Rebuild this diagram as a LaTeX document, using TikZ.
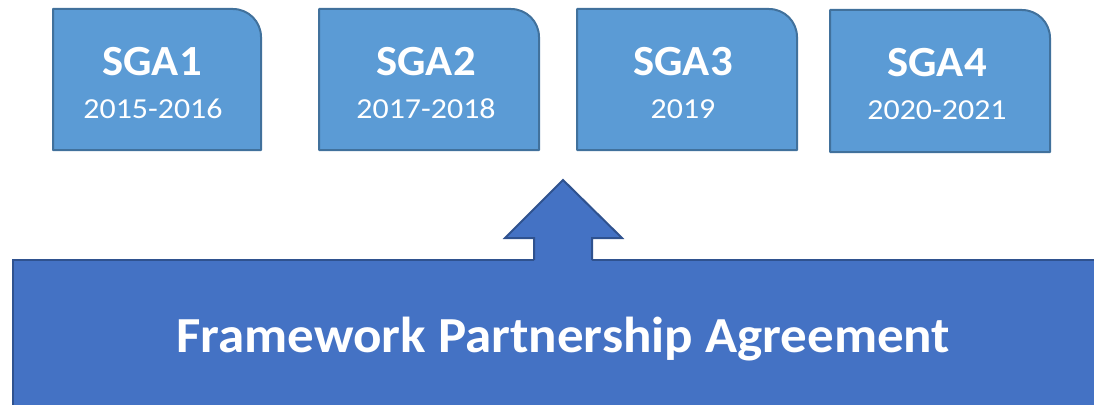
\documentclass[tikz,border=0pt]{standalone}
\usepackage{fontspec}
\setmainfont{Carlito}
\definecolor{boxfill}{HTML}{5B9BD5}
\definecolor{boxline}{HTML}{41719C}
\definecolor{basefill}{HTML}{4472C4}
\definecolor{baseedge}{HTML}{2F528F}
\begin{document}
\begin{tikzpicture}[x=1pt,y=-1pt,
  sgabox/.style={fill=boxfill,draw=boxline,line width=2pt,line join=round},
  basebox/.style={fill=basefill,draw=baseedge,line width=2pt},
  title/.style={text=white,font=\fontsize{43}{50}\selectfont\bfseries,anchor=base,inner sep=0pt,xscale=1.04,transform shape},
  years/.style={text=white,font=\fontsize{29}{36}\selectfont,anchor=base,inner sep=0pt,xscale=1.1,transform shape},
  fpa/.style={text=white,font=\fontsize{50.5}{60}\selectfont\bfseries,anchor=base,inner sep=0pt,xscale=1.05,transform shape}]
\useasboundingbox (0,0) rectangle (1094,404);
\clip (0,0) rectangle (1094,404);
% SGA boxes
\foreach \l/\r/\t/\b in {53/261/9/150, 319/539/9/150, 577/797/9/150, 830/1050/10/152}{
  \draw[sgabox] (\l,\b) -- (\l,\t) [rounded corners=28pt]-- (\r,\t) [sharp corners]-- (\r,\b) -- cycle;
}
\node[title] (sga1) at (152,75) {SGA1};
\node[years] (y1) at (153,118.5) {2015-2016};
\node[title] (sga2) at (426,75) {SGA2};
\node[years] (y2) at (426,118.5) {2017-2018};
\node[title] (sga3) at (683,75) {SGA3};
\node[years] (y3) at (683,118.5) {2019};
\node[title] (sga4) at (937,76) {SGA4};
\node[years] (y4) at (937,119.5) {2020-2021};
% base
\draw[basebox] (13,260) rectangle (1110,420);
% arrow
\fill[basefill] (534,262) -- (534,238) -- (505,238) -- (563,180) -- (622,238) -- (592,238) -- (592,262) -- cycle;
\draw[draw=baseedge,line width=2pt,line join=miter] (534,260) -- (534,238) -- (505,238) -- (563,180) -- (622,238) -- (592,238) -- (592,260);
\node[fpa] (fpa) at (563.5,352.5) {Framework Partnership Agreement};
\end{tikzpicture}
\end{document}
